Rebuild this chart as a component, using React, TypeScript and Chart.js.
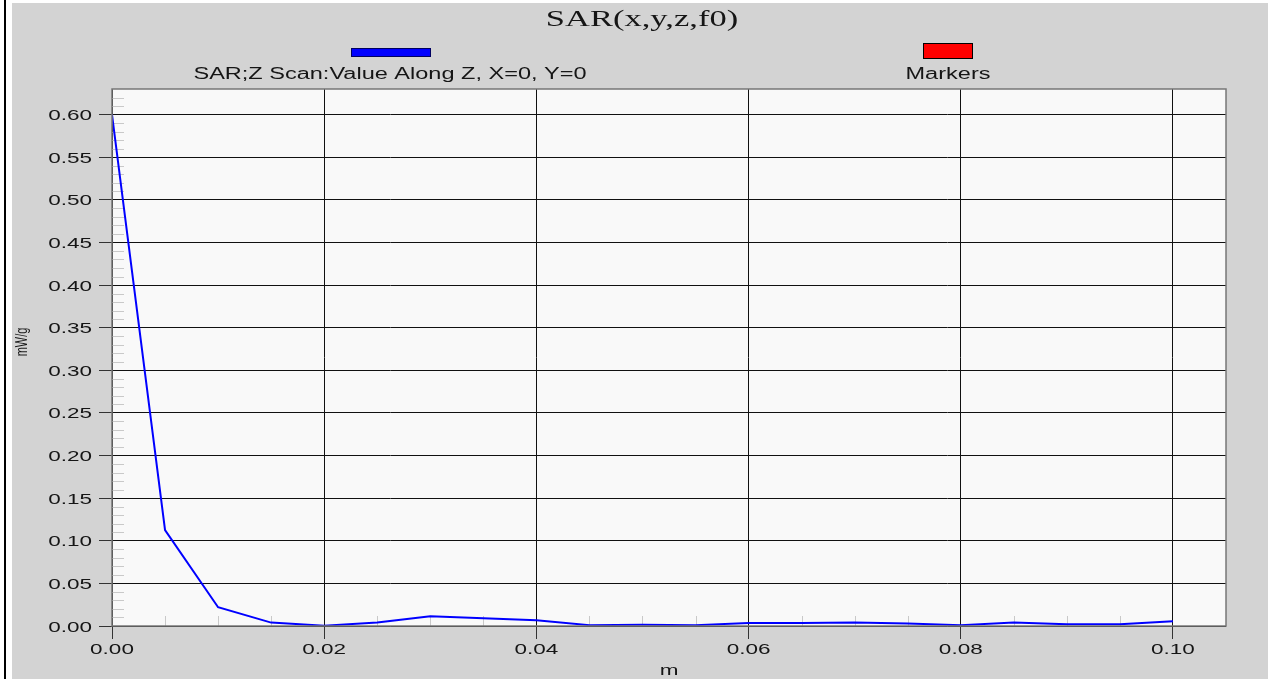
import React, { useEffect, useRef } from "react";
import { Chart, registerables } from "chart.js";

Chart.register(...registerables);

// ---- data ----
const xValues = [0, 0.005, 0.01, 0.015, 0.02, 0.025, 0.03, 0.035, 0.04, 0.045, 0.05, 0.055, 0.06, 0.065, 0.07, 0.075, 0.08, 0.085, 0.09, 0.095, 0.1];
const sarValues = [0.6, 0.1125, 0.022, 0.004, 0.0004, 0.004, 0.0115, 0.009, 0.0068, 0.001, 0.0015, 0.001, 0.0035, 0.0035, 0.004, 0.003, 0.001, 0.004, 0.002, 0.002, 0.0055];

const xTickValues = [0, 0.02, 0.04, 0.06, 0.08, 0.1];
const xTickLabels = ["0.00", "0.02", "0.04", "0.06", "0.08", "0.10"];
const yTickValues = [0, 0.05, 0.1, 0.15, 0.2, 0.25, 0.3, 0.35, 0.4, 0.45, 0.5, 0.55, 0.6];
const yTickLabels = ["0.00", "0.05", "0.10", "0.15", "0.20", "0.25", "0.30", "0.35", "0.40", "0.45", "0.50", "0.55", "0.60"];

const seriesLabel = "SAR;Z Scan:Value Along Z, X=0, Y=0";
const markersLabel = "Markers";
const titleText = "SAR(x,y,z,f0)";
const xTitle = "m";
const yTitle = "mW/g";

const X_MIN = 0, X_MAX = 0.105, Y_MIN = 0, Y_MAX = 0.63;
const X_MINOR = 0.005, Y_MINOR = 0.01;

const W = 1256, H = 676;
const SX = 1.5; // horizontal stretch of text in the reference
const SANS = '"Liberation Sans", Arial, sans-serif';
const SERIF = '"Liberation Serif", "Times New Roman", serif';
const TEXT = "#151515";

function sText(ctx: CanvasRenderingContext2D, text: string, x: number, y: number, align: CanvasTextAlign, sx: number) {
  ctx.save();
  ctx.translate(x, y);
  ctx.scale(sx, 1);
  ctx.textAlign = align;
  ctx.textBaseline = "alphabetic";
  ctx.fillText(text, 0, 0);
  ctx.restore();
}

const decor = {
  id: "decor",
  beforeDraw(chart: any) {
    const { ctx, chartArea: a } = chart;
    ctx.save();
    ctx.fillStyle = "#f9f9f9";
    ctx.fillRect(a.left, a.top, a.right - a.left, a.bottom - a.top);
    ctx.restore();
  },
  beforeDatasetsDraw(chart: any) {
    const { ctx, chartArea: a, scales } = chart;
    ctx.save();
    ctx.strokeStyle = "#c9c9c9";
    ctx.lineWidth = 1;
    ctx.beginPath();
    for (let i = 1; i * Y_MINOR < Y_MAX; i++) {
      const v = i * Y_MINOR;
      if (i % 5 === 0) continue;
      const y = Math.round(scales.y.getPixelForValue(v)) + 0.5;
      ctx.moveTo(a.left, y);
      ctx.lineTo(a.left + 12, y);
    }
    for (let i = 1; i * X_MINOR < X_MAX; i++) {
      if (i % 4 === 0) continue;
      const x = Math.round(scales.x.getPixelForValue(i * X_MINOR)) + 0.5;
      ctx.moveTo(x, a.bottom);
      ctx.lineTo(x, a.bottom - 10);
    }
    ctx.stroke();
    ctx.restore();
  },
  afterDraw(chart: any) {
    const { ctx, chartArea: a, scales } = chart;
    ctx.save();
    // frame
    ctx.strokeStyle = "#777";
    ctx.lineWidth = 1.5;
    ctx.strokeRect(a.left, a.top, a.right - a.left, a.bottom - a.top);

    ctx.fillStyle = TEXT;
    // y tick labels
    ctx.font = `15px ${SANS}`;
    yTickValues.forEach((v, i) => {
      const y = scales.y.getPixelForValue(v);
      sText(ctx, yTickLabels[i], a.left - 20, y + 5.5, "right", SX);
    });
    // x tick labels
    xTickValues.forEach((v, i) => {
      const x = scales.x.getPixelForValue(v);
      sText(ctx, xTickLabels[i], x, a.bottom + 28, "center", SX);
    });
    // x title
    sText(ctx, xTitle, (a.left + a.right) / 2, a.bottom + 49, "center", SX);
    // y title (rotated)
    ctx.save();
    ctx.translate(10.5, 339);
    ctx.scale(SX, 1);
    ctx.rotate(-Math.PI / 2);
    ctx.font = `11px ${SANS}`;
    ctx.textAlign = "center";
    ctx.textBaseline = "middle";
    ctx.fillText(yTitle, 0, 0);
    ctx.restore();

    // title
    ctx.font = `23px ${SERIF}`;
    sText(ctx, titleText, 630, 23, "center", SX);

    // legend
    const ds = chart.data.datasets;
    ctx.font = `16px ${SANS}`;
    // series
    ctx.fillStyle = ds[0].borderColor;
    ctx.fillRect(339, 45, 80, 9);
    ctx.strokeStyle = "#000060";
    ctx.lineWidth = 1;
    ctx.strokeRect(339.5, 45.5, 79, 8);
    ctx.fillStyle = TEXT;
    sText(ctx, ds[0].label, 378, 76, "center", 1.47);
    // markers
    ctx.fillStyle = ds[1].backgroundColor;
    ctx.fillRect(911, 40, 50, 16);
    ctx.strokeStyle = "#000";
    ctx.strokeRect(911.5, 40.5, 49, 15);
    ctx.fillStyle = TEXT;
    sText(ctx, ds[1].label, 936, 76, "center", 1.47);
    ctx.restore();
  },
};

export default function App() {
  const ref = useRef<HTMLCanvasElement | null>(null);
  useEffect(() => {
    if (!ref.current) return;
    const chart = new Chart(ref.current, {
      type: "line",
      data: {
        datasets: [
          {
            label: seriesLabel,
            data: xValues.map((x, i) => ({ x, y: sarValues[i] })),
            borderColor: "#0000ff",
            backgroundColor: "#0000ff",
            borderWidth: 2,
            pointRadius: 0,
            tension: 0,
          },
          {
            label: markersLabel,
            data: [],
            borderColor: "#ff0000",
            backgroundColor: "#ff0000",
            pointRadius: 0,
          },
        ],
      },
      options: {
        animation: false,
        responsive: false,
        devicePixelRatio: 1,
        layout: { padding: { top: 86, right: 42, bottom: 0, left: 0 } },
        plugins: { legend: { display: false }, tooltip: { enabled: false }, title: { display: false } },
        scales: {
          x: {
            type: "linear",
            min: X_MIN,
            max: X_MAX,
            afterBuildTicks: (s: any) => {
              s.ticks = xTickValues.map((v) => ({ value: v }));
            },
            afterFit: (s: any) => {
              s.height = 53;
            },
            ticks: { display: false },
            grid: { color: "#111", lineWidth: 1, drawTicks: true, tickLength: 13, tickColor: "#333" },
            border: { display: false },
          },
          y: {
            type: "linear",
            min: Y_MIN,
            max: Y_MAX,
            afterBuildTicks: (s: any) => {
              s.ticks = yTickValues.map((v) => ({ value: v }));
            },
            afterFit: (s: any) => {
              s.width = 100;
            },
            ticks: { display: false },
            grid: { color: "#111", lineWidth: 1, drawTicks: true, tickLength: 13, tickColor: "#333" },
            border: { display: false },
          },
        },
      },
      plugins: [decor],
    } as any);
    return () => chart.destroy();
  }, []);

  return (
    <div style={{ position: "fixed", left: 0, top: 0, width: 1268, height: 679, background: "#fff", overflow: "hidden" }}>
      <div style={{ position: "absolute", left: 4, top: 0, width: 2, height: 679, background: "#000" }} />
      <canvas
        ref={ref}
        width={W}
        height={H}
        style={{ position: "absolute", left: 12, top: 3, width: W, height: H, background: "#d3d3d3" }}
      />
    </div>
  );
}
